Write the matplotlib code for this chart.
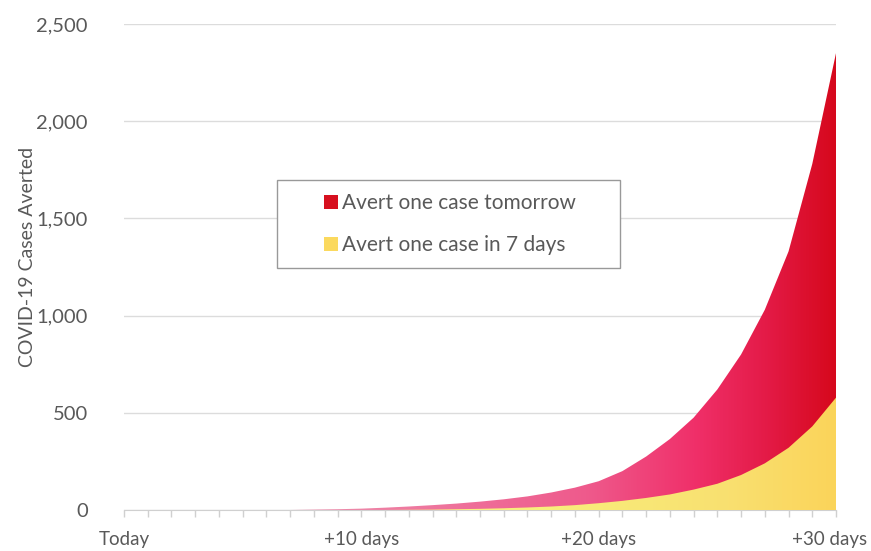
import numpy as np
import matplotlib
matplotlib.use('Agg')
import matplotlib.pyplot as plt
import matplotlib.transforms as mtrans
from matplotlib.colors import LinearSegmentedColormap
from matplotlib.patches import Patch, Rectangle

plt.rcParams['font.family'] = ['Lato', 'DejaVu Sans']

# days from today
days = list(range(0, 31))
# avert one case tomorrow
tomorrow = [0, 0, 0, 0, 0, 0, 0, 0, 2, 4,
            7, 12, 18, 25, 33, 43, 55, 70, 90, 115,
            148, 200, 275, 365, 475, 620, 800, 1030, 1330, 1780,
            2350]
# avert one case in 7 days
in7days = [0, 0, 0, 0, 0, 0, 0, 0, 0, 0,
           0, 0, 1, 2, 4, 6, 9, 13, 18, 25,
           35, 47, 62, 80, 105, 135, 180, 240, 320, 430,
           578]
tick_days = [0, 10, 20, 30]
tick_labels = ['Today', '+10 days', '+20 days', '+30 days']
y_ticks = [0, 500, 1000, 1500, 2000, 2500]

grey = '#595959'
fig = plt.figure(figsize=(8.71, 5.51), dpi=100)
ax = fig.add_axes([124/871, 41/551, 712/871, 486/551])
ax.set_xlim(0, 30)
ax.set_ylim(0, 2500)

# gradient cmaps (left to right)
red_cm = LinearSegmentedColormap.from_list('r', [
    (0.0, '#f29ab8'), (0.3, '#ef86a8'), (0.65, '#ee5a8c'),
    (0.8, '#f0306a'), (0.9, '#e41b48'), (1.0, '#d6081c')])
yel_cm = LinearSegmentedColormap.from_list('y', [
    (0.0, '#f8f19a'), (0.6, '#f8ee7c'), (0.85, '#f9e070'), (1.0, '#fbd45a')])

grad = np.linspace(0, 1, 512).reshape(1, -1)
for vals, cm, z in [(tomorrow, red_cm, 2), (in7days, yel_cm, 3)]:
    poly = ax.fill_between(days, 0, vals, facecolor='none', edgecolor='none')
    im = ax.imshow(grad, cmap=cm, extent=[0, 30, 0, 2500], aspect='auto',
                   origin='lower', zorder=z, interpolation='bilinear')
    im.set_clip_path(poly.get_paths()[0], transform=ax.transData)

ax.set_yticks(y_ticks)
ax.set_yticklabels(['{:,}'.format(v) for v in y_ticks])
ax.grid(axis='y', color='#dcdcdc', linewidth=1)
ax.set_axisbelow(True)
ax.set_xticks(tick_days)
ax.set_xticklabels(tick_labels)
ax.set_xticks(days, minor=True)
ax.tick_params(axis='y', length=0, pad=26, labelsize=14.5, labelcolor=grey)
ax.tick_params(axis='x', which='both', length=5, color='#d0d0d0', width=1,
               labelsize=13.5, labelcolor=grey, pad=10)
# nudge last label so it stays inside the picture
last = ax.get_xticklabels()[-1]
last.set_transform(last.get_transform() +
                   mtrans.ScaledTranslation(-6/100, 0, fig.dpi_scale_trans))
for s in ['top', 'right', 'left']:
    ax.spines[s].set_visible(False)
ax.spines['bottom'].set_color('#d0d0d0')
ax.set_ylabel('COVID-19 Cases Averted', fontsize=14, color=grey)
ax.yaxis.set_label_coords(-88/712, 0.52)

# legend box
fig.patches.append(Rectangle((277/871, 1-268/551), 343/871, 88/551,
                             transform=fig.transFigure, facecolor='white',
                             edgecolor='#999999', linewidth=1, zorder=5))
handles = [Patch(facecolor='#d7101f', edgecolor='none'),
           Patch(facecolor='#fbd95e', edgecolor='none')]
leg = fig.legend(handles, ['Avert one case tomorrow', 'Avert one case in 7 days'],
                 loc='center', bbox_to_anchor=(450/871, 1-224/551),
                 frameon=False, fontsize=15, labelcolor=grey,
                 handlelength=0.65, handleheight=0.65, handletextpad=0.2,
                 labelspacing=1.05)
leg.set_zorder(6)

plt.savefig('out.png', dpi=100)
